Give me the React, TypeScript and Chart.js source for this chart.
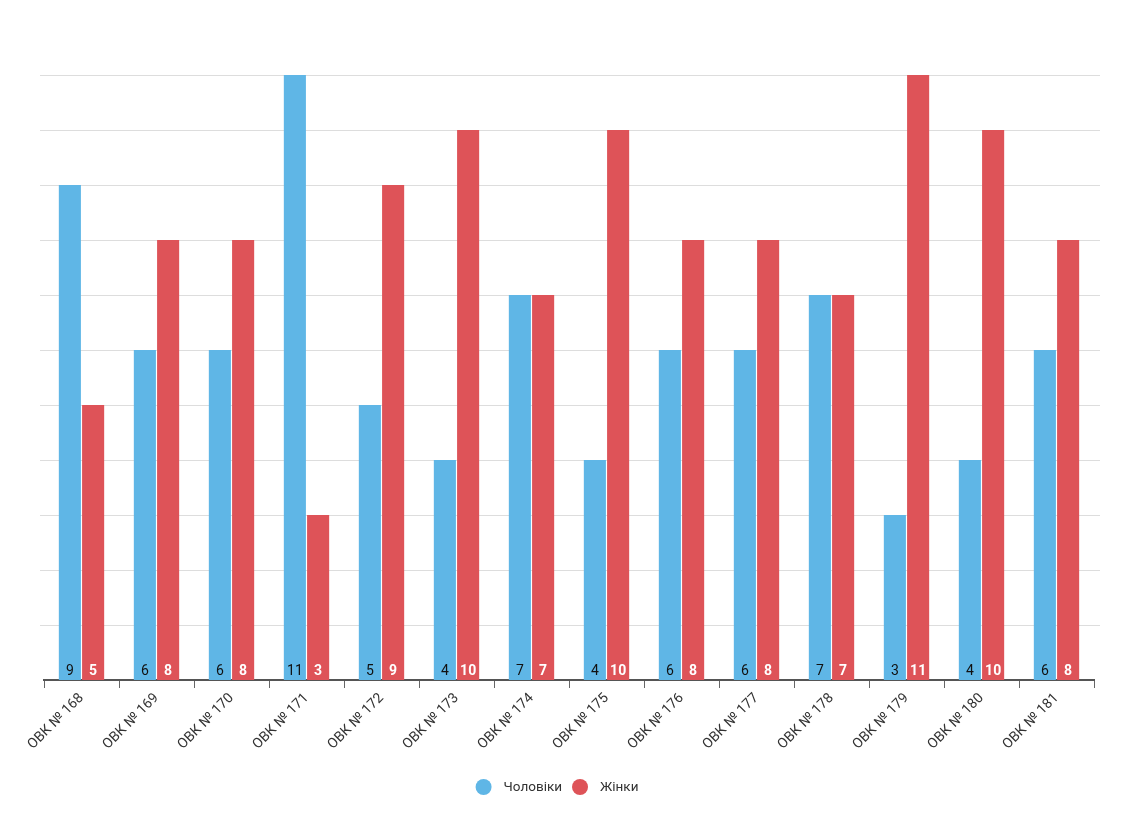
import React, { useEffect, useRef } from "react";
import { Chart, registerables } from "chart.js";

Chart.register(...registerables);

const categories = [
  "ОВК № 168", "ОВК № 169", "ОВК № 170", "ОВК № 171", "ОВК № 172", "ОВК № 173", "ОВК № 174",
  "ОВК № 175", "ОВК № 176", "ОВК № 177", "ОВК № 178", "ОВК № 179", "ОВК № 180", "ОВК № 181",
];
const men = [9, 6, 6, 11, 5, 4, 7, 4, 6, 6, 7, 3, 4, 6];
const women = [5, 8, 8, 3, 9, 10, 7, 10, 8, 8, 7, 11, 10, 8];
const seriesNames = ["Чоловіки", "Жінки"];
const yMax = 11;

const BLUE = "#5fb6e6";
const RED = "#de5358";

const gridPlugin = {
  id: "customGrid",
  beforeDatasetsDraw(chart: any) {
    const { ctx, chartArea, scales } = chart;
    const y = scales.y;
    ctx.save();
    ctx.strokeStyle = "#dddddd";
    ctx.lineWidth = 1;
    for (let v = 1; v <= yMax; v++) {
      const py = Math.round(y.getPixelForValue(v)) + 0.5;
      ctx.beginPath();
      ctx.moveTo(chartArea.left - 4, py);
      ctx.lineTo(chartArea.right + 6, py);
      ctx.stroke();
    }
    ctx.restore();
  },
};

const labelPlugin = {
  id: "barLabels",
  afterDatasetsDraw(chart: any) {
    const { ctx } = chart;
    ctx.save();
    ctx.textAlign = "center";
    ctx.textBaseline = "alphabetic";
    chart.data.datasets.forEach((ds: any, di: number) => {
      const meta = chart.getDatasetMeta(di);
      meta.data.forEach((bar: any, i: number) => {
        const v = ds.data[i];
        if (di === 0) {
          ctx.fillStyle = "#111111";
          ctx.font = "400 14px Roboto";
        } else {
          ctx.fillStyle = "#ffffff";
          ctx.font = "700 14px Roboto";
        }
        ctx.fillText(String(v), bar.x, bar.base - 5);
      });
    });
    ctx.restore();
  },
};

const legendPlugin = {
  id: "customLegend",
  afterDraw(chart: any) {
    const { ctx } = chart;
    const r = 8;
    const gap = 12;
    const itemGap = 10;
    const cy = 787;
    ctx.save();
    ctx.font = "400 13.5px Roboto";
    const items = chart.data.datasets.map((ds: any) => ({
      label: ds.label,
      color: ds.backgroundColor,
      w: 2 * r + gap + ctx.measureText(ds.label).width,
    }));
    const total = items.reduce((s: number, it: any) => s + it.w, 0) + itemGap * (items.length - 1);
    let x = 557 - total / 2;
    ctx.textBaseline = "middle";
    ctx.textAlign = "left";
    items.forEach((it: any) => {
      ctx.fillStyle = it.color;
      ctx.beginPath();
      ctx.arc(x + r, cy, r, 0, Math.PI * 2);
      ctx.fill();
      ctx.fillStyle = "#333333";
      ctx.fillText(it.label, x + 2 * r + gap, cy + 1);
      x += it.w + itemGap;
    });
    ctx.restore();
  },
};

export default function App() {
  const ref = useRef<HTMLCanvasElement | null>(null);
  useEffect(() => {
    document.body.style.margin = "0";
    const chart = new Chart(ref.current as HTMLCanvasElement, {
      type: "bar",
      data: {
        labels: categories,
        datasets: [
          { label: seriesNames[0], data: men, backgroundColor: BLUE, borderWidth: 0 },
          { label: seriesNames[1], data: women, backgroundColor: RED, borderWidth: 0 },
        ],
      },
      options: {
        animation: false,
        responsive: false,
        maintainAspectRatio: false,
        devicePixelRatio: 1,
        datasets: { bar: { categoryPercentage: 0.62, barPercentage: 0.95 } },
        layout: { padding: { top: 75, left: 44, right: 36, bottom: 71 } },
        plugins: {
          tooltip: { enabled: false },
          legend: { display: false },
        },
        scales: {
          x: {
            offset: true,
            grid: {
              offset: true,
              drawOnChartArea: false,
              drawTicks: true,
              tickLength: 8,
              color: "#666666",
              lineWidth: 1,
            },
            border: { display: true, color: "#555555", width: 2 },
            ticks: {
              color: "#333333",
              font: { family: "Roboto", size: 14 },
              minRotation: 45,
              maxRotation: 45,
              autoSkip: false,
              padding: 2,
            },
            afterFit(scale: any) {
              scale.height = 85;
            },
          },
          y: {
            display: false,
            min: 0,
            max: yMax,
          },
        },
      },
      plugins: [gridPlugin, labelPlugin, legendPlugin],
    } as any);
    return () => chart.destroy();
  }, []);
  return (
    <div style={{ width: 1130, height: 836 }}>
      <canvas ref={ref} width={1130} height={836} style={{ width: 1130, height: 836, display: "block" }} />
    </div>
  );
}
